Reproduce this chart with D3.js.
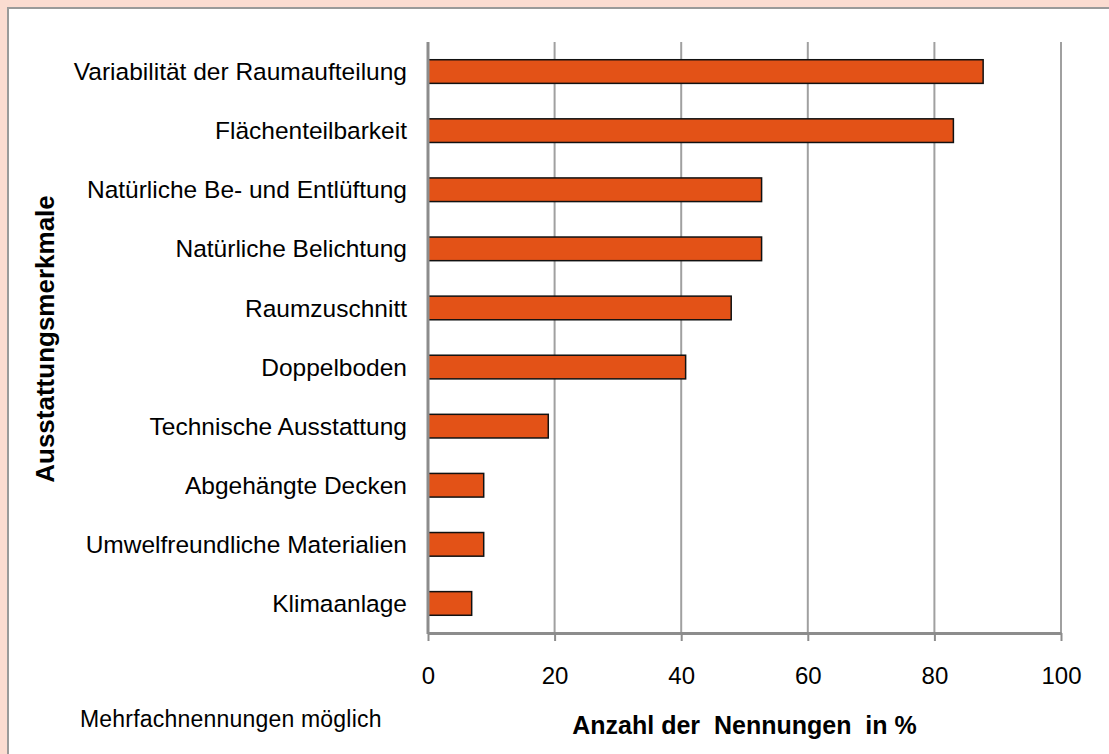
<!DOCTYPE html>
<html>
<head>
<meta charset="utf-8">
<script src="https://cdn.jsdelivr.net/npm/d3@7"></script>
<style>
  html, body { margin: 0; padding: 0; background: #fbdcd1; }
  #chart { width: 1109px; height: 754px; }
  text { font-family: "Liberation Sans", Arial, sans-serif; fill: #000; white-space: pre; }
</style>
</head>
<body>
<div id="chart"></div>
<script>
const categories = [
    "Variabilität der Raumaufteilung",
    "Flächenteilbarkeit",
    "Natürliche Be- und Entlüftung",
    "Natürliche Belichtung",
    "Raumzuschnitt",
    "Doppelboden",
    "Technische Ausstattung",
    "Abgehängte Decken",
    "Umwelfreundliche Materialien",
    "Klimaanlage"
];
const values = [87.7, 83, 52.7, 52.7, 47.9, 40.7, 19, 8.8, 8.8, 6.9];
const xTicks = [0, 20, 40, 60, 80, 100];

const W = 1109, H = 754;
const plot = { left: 428, right: 1061, top: 42, bottom: 633 };

const svg = d3.select("#chart").append("svg")
    .attr("width", W)
    .attr("height", H);

//white panel with grey frame
svg.append("rect")
    .attr("x", 8).attr("y", 8)
    .attr("width", W + 10).attr("height", H + 10)
    .attr("fill", "#fff")
    .attr("stroke", "#9a9a9a")
    .attr("stroke-width", 2);

const x = d3.scaleLinear()
    .domain([0, 100])
    .range([plot.left, plot.right]);

const y = d3.scaleBand()
    .domain(categories)
    .range([plot.top, plot.bottom])
    .paddingInner(0.6)
    .paddingOuter(0.3);

//vertical grid lines
svg.append("g")
    .selectAll("line")
    .data(xTicks.slice(1))
    .join("line")
        .attr("x1", d => x(d)).attr("x2", d => x(d))
        .attr("y1", plot.top).attr("y2", plot.bottom)
        .attr("stroke", "#a0a0a0")
        .attr("stroke-width", 2);

//bars
svg.append("g")
    .selectAll("rect")
    .data(categories)
    .join("rect")
        .attr("x", x(0))
        .attr("y", d => y(d))
        .attr("width", (d, i) => x(values[i]) - x(0))
        .attr("height", y.bandwidth())
        .attr("fill", "#e35217")
        .attr("stroke", "#111")
        .attr("stroke-width", 1.5);

//x axis
const xAxis = svg.append("g")
    .attr("transform", `translate(0,${plot.bottom})`)
    .call(d3.axisBottom(x).tickValues(xTicks).tickSize(8).tickPadding(26).tickSizeOuter(0));
xAxis.select(".domain").attr("stroke", "#8c8c8c").attr("stroke-width", 3);
xAxis.selectAll(".tick line").attr("stroke", "#8c8c8c").attr("stroke-width", 2);
xAxis.selectAll(".tick text")
    .style("font-family", "'Liberation Sans', Arial, sans-serif")
    .style("font-size", "24px")
    .attr("fill", "#000");

//y axis line at zero
svg.append("line")
    .attr("x1", x(0)).attr("x2", x(0))
    .attr("y1", plot.top).attr("y2", plot.bottom + 1)
    .attr("stroke", "#8c8c8c")
    .attr("stroke-width", 3);

//category labels
svg.append("g")
    .selectAll("text")
    .data(categories)
    .join("text")
        .attr("x", plot.left - 21)
        .attr("y", d => y(d) + y.bandwidth() / 2)
        .attr("dy", "0.35em")
        .attr("text-anchor", "end")
        .style("font-size", "24.5px")
        .text(d => d);

//axis titles
svg.append("text")
    .attr("x", (plot.left + plot.right) / 2)
    .attr("y", 734)
    .attr("text-anchor", "middle")
    .style("font-size", "25px")
    .style("font-weight", "bold")
    .text("Anzahl der  Nennungen  in %");

svg.append("text")
    .attr("transform", "rotate(-90)")
    .attr("x", -339)
    .attr("y", 54)
    .attr("text-anchor", "middle")
    .style("font-size", "26px")
    .style("font-weight", "bold")
    .text("Ausstattungsmerkmale");

svg.append("text")
    .attr("x", 80)
    .attr("y", 727)
    .style("font-size", "23px")
    .style("letter-spacing", "0.2px")
    .text("Mehrfachnennungen möglich");
</script>
</body>
</html>
